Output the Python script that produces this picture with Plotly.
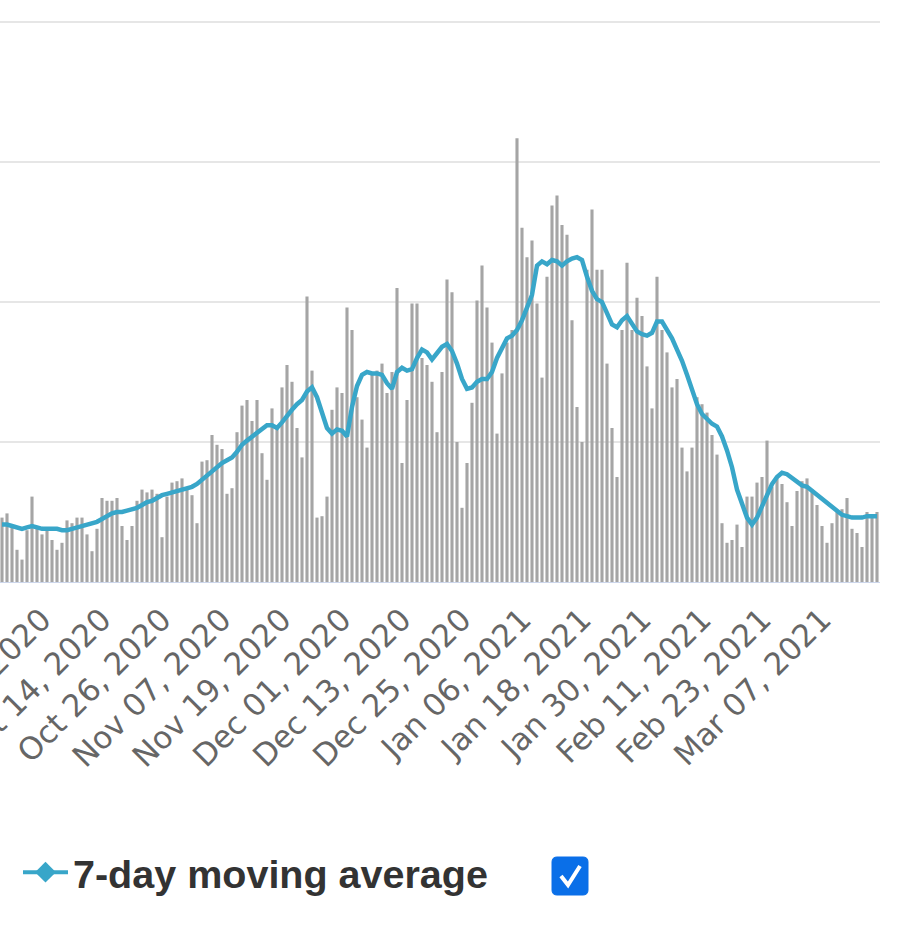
import pandas as pd
import plotly.graph_objects as go

# Daily values (bars) and 7-day moving average, Sep 24 2020 .. Mar 18 2021
start_date = "2020-09-24"
daily_values = [
    460, 490, 400, 230, 160, 370, 610, 380, 340, 370, 300, 230, 280, 440, 420,
    460, 460, 340, 220, 380, 600, 580, 580, 600, 400, 300, 400, 580, 660, 640,
    660, 630, 320, 610, 710, 720, 740, 660, 620, 420, 860, 870, 1050, 980, 950,
    630, 670, 1070, 1260, 1300, 1150, 1300, 920, 730, 1240, 1100, 1390, 1550, 1430, 1100,
    890, 2040, 1510, 460, 470, 610, 1230, 1390, 1350, 1960, 1800, 1320, 1160, 960, 1490,
    1510, 1560, 1350, 1500, 2100, 850, 1300, 1990, 1990, 1600, 1550, 1430, 1070, 1500, 2160,
    2070, 1000, 530, 850, 1280, 2010, 2260, 1960, 1710, 1060, 1490, 1710, 1800, 3170, 2530,
    2320, 2440, 1990, 1460, 2180, 2690, 2760, 2550, 2480, 1870, 1250, 1000, 2230, 2660, 2230,
    2230, 1560, 1100, 750, 1800, 2280, 1800, 2030, 1900, 1540, 1240, 2180, 1800, 1640, 1390,
    1450, 960, 790, 960, 1320, 1270, 1210, 1050, 910, 420, 280, 300, 410, 250, 610,
    610, 710, 750, 1010, 680, 750, 700, 570, 400, 650, 720, 740, 660, 550, 400,
    280, 420, 500, 520, 600, 380, 350, 250, 500, 480, 500,
]
moving_avg = [
    410, 410, 400, 390, 380, 390, 400, 390, 380, 380, 380, 380, 370, 370, 380,
    390, 400, 410, 420, 430, 450, 470, 490, 500, 500, 510, 520, 530, 550, 570,
    580, 600, 620, 630, 640, 650, 660, 670, 680, 700, 730, 770, 800, 830, 850,
    870, 890, 930, 980, 1010, 1040, 1070, 1100, 1120, 1120, 1100, 1140, 1190, 1230, 1270,
    1300, 1360, 1390, 1320, 1200, 1100, 1060, 1090, 1080, 1040, 1250, 1400, 1480, 1500, 1490,
    1490, 1480, 1420, 1380, 1500, 1530, 1510, 1520, 1600, 1660, 1640, 1590, 1630, 1680, 1700,
    1650, 1560, 1450, 1380, 1390, 1430, 1450, 1450, 1500, 1600, 1670, 1740, 1760, 1800, 1870,
    1960, 2050, 2260, 2290, 2270, 2300, 2290, 2260, 2290, 2310, 2320, 2300, 2180, 2080, 2020,
    2000, 1920, 1840, 1820, 1870, 1900, 1840, 1790, 1770, 1760, 1780, 1860, 1860, 1800, 1740,
    1660, 1580, 1480, 1380, 1270, 1200, 1160, 1130, 1110, 1040, 940, 820, 660, 550, 460,
    410, 460, 540, 630, 700, 750, 780, 770, 740, 710, 690, 680, 650, 620, 590,
    560, 530, 500, 480, 470, 460, 460, 460, 470, 470, 470,
]
tick_dates = pd.date_range("2020-10-02", "2021-03-07", freq="12D")
legend_label = "7-day moving average"

dates = pd.date_range(start_date, periods=len(daily_values), freq="D")

W, H = 900, 930
ml, mr, mt, mb = 0, 20, 8, 348
pw, ph = W - ml - mr, H - mt - mb


def px(x):
    return (x - ml) / pw


def py(y):
    return (H - mb - y) / ph


fig = go.Figure()
fig.add_trace(
    go.Bar(
        x=dates,
        y=daily_values,
        marker=dict(color="#a5a5a5", line=dict(width=0)),
        showlegend=False,
        hoverinfo="x+y",
    )
)
fig.add_trace(
    go.Scatter(
        x=dates,
        y=moving_avg,
        mode="lines",
        line=dict(color="#38a6c9", width=4.5),
        showlegend=False,
    )
)
# legend entry (line with diamond, as in the original chart)
fig.add_trace(
    go.Scatter(
        x=[None],
        y=[None],
        mode="lines+markers",
        name=legend_label,
        line=dict(color="#38a6c9", width=4),
        marker=dict(symbol="diamond", size=16, color="#38a6c9"),
    )
)

# checkbox next to the legend
cx0, cx1, cy0, cy1, r = 552, 588, 857, 895, 5
fig.add_shape(
    type="path",
    xref="paper",
    yref="paper",
    path=(
        f"M {px(cx0 + r)} {py(cy0)} L {px(cx1 - r)} {py(cy0)} "
        f"Q {px(cx1)} {py(cy0)} {px(cx1)} {py(cy0 + r)} "
        f"L {px(cx1)} {py(cy1 - r)} Q {px(cx1)} {py(cy1)} {px(cx1 - r)} {py(cy1)} "
        f"L {px(cx0 + r)} {py(cy1)} Q {px(cx0)} {py(cy1)} {px(cx0)} {py(cy1 - r)} "
        f"L {px(cx0)} {py(cy0 + r)} Q {px(cx0)} {py(cy0)} {px(cx0 + r)} {py(cy0)} Z"
    ),
    fillcolor="#0a6fe8",
    line=dict(color="#0a6fe8", width=1),
)
fig.add_shape(
    type="path",
    xref="paper",
    yref="paper",
    path=f"M {px(561)} {py(876)} L {px(568)} {py(885)} L {px(580)} {py(866)}",
    line=dict(color="white", width=4),
)

fig.update_xaxes(
    type="date",
    range=["2020-09-23 14:24", "2021-03-18 14:24"],
    tickvals=tick_dates,
    tickformat="%b %d, %Y",
    tickangle=-45,
    tickfont=dict(family="DejaVu Sans", size=31, color="#666666"),
    ticks="outside",
    ticklen=6,
    tickcolor="rgba(0,0,0,0)",
    ticklabeloverflow="allow",
    showgrid=False,
    showline=True,
    linecolor="#ccd6eb",
    linewidth=1,
    zeroline=False,
    automargin=False,
)
fig.update_yaxes(
    range=[0, 4100],
    dtick=1000,
    showticklabels=False,
    gridcolor="#e6e6e6",
    gridwidth=2,
    zeroline=False,
    automargin=False,
)
fig.update_layout(
    width=W,
    height=H,
    margin=dict(l=ml, r=mr, t=mt, b=mb),
    paper_bgcolor="white",
    plot_bgcolor="white",
    bargap=0.38,
    legend=dict(
        x=px(18),
        y=py(840),
        xanchor="left",
        yanchor="top",
        orientation="h",
        itemwidth=45,
        font=dict(family="Liberation Sans", size=39.5, color="#333333", weight="bold"),
        bgcolor="rgba(0,0,0,0)",
    ),
)

fig.write_html(
    "out.html",
    config={"displayModeBar": False},
    post_script="document.body.style.margin='0';",
)
